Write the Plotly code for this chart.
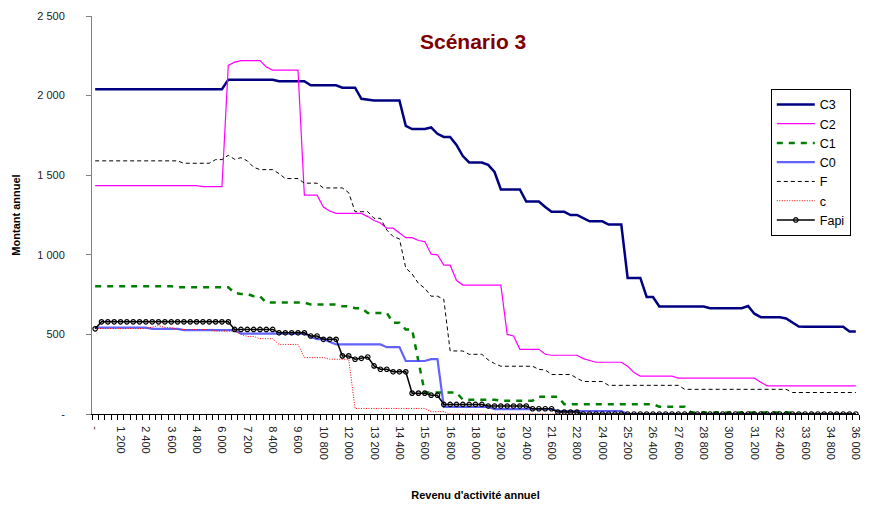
import plotly.graph_objects as go

# Categories: annual activity income, every 300
revenu = list(range(0, 36001, 300))

C3 = [2040,2040,2040,2040,2040,2040,2040,2040,2040,2040,
      2040,2040,2040,2040,2040,2040,2040,2040,2040,2040,
      2040,2100,2100,2100,2100,2100,2100,2100,2100,2090,
      2090,2090,2090,2090,2065,2065,2065,2065,2065,2050,
      2050,2050,1980,1975,1970,1970,1970,1970,1970,1810,
      1790,1790,1790,1800,1760,1740,1740,1690,1620,1580,
      1580,1580,1565,1520,1410,1410,1410,1410,1335,1335,
      1335,1300,1270,1270,1270,1250,1250,1230,1210,1210,
      1210,1190,1190,1190,855,855,855,735,735,675,
      675,675,675,675,675,675,675,665,665,665,
      665,665,665,678,630,608,608,608,608,600,
      573,550,548,548,548,548,548,548,548,518,
      518]

C2 = [1435,1435,1435,1435,1435,1435,1435,1435,1435,1435,
      1435,1435,1435,1435,1435,1435,1435,1428,1428,1428,
      1428,2190,2210,2220,2220,2220,2220,2180,2160,2160,
      2160,2160,2160,1375,1375,1375,1300,1275,1260,1260,
      1260,1260,1260,1240,1215,1200,1167,1167,1140,1108,
      1108,1090,1083,1004,1000,935,935,840,810,810,
      810,810,810,810,810,500,490,406,406,406,
      406,375,369,369,369,369,369,348,335,325,
      325,325,325,325,300,260,238,238,238,238,
      238,238,225,225,225,225,225,225,225,225,
      225,225,225,225,225,200,177,177,177,177,
      177,177,177,177,177,177,177,177,177,177,
      177]

C1 = [802,802,802,802,802,802,802,802,802,802,
      802,802,802,796,796,796,796,796,796,796,
      796,796,760,754,754,740,740,700,700,700,
      700,700,700,700,688,688,688,688,688,677,
      677,665,665,635,635,635,635,573,573,531,
      531,330,135,135,135,135,135,135,90,90,
      90,90,90,90,84,84,84,84,84,84,
      108,108,108,108,62,62,62,62,62,62,
      62,62,62,62,62,62,62,62,62,45,
      45,45,45,45,10,10,10,10,10,10,
      10,10,10,10,10,10,10,10,10,10,
      10,0,0,0,0,0,0,0,0,0,
      0]

C0 = [542,542,542,542,542,542,542,542,542,535,
      535,535,535,535,527,527,527,527,527,527,
      527,527,527,505,505,505,505,505,505,505,
      505,505,505,505,485,470,470,455,437,437,
      437,437,437,437,437,437,420,420,420,333,
      333,333,333,345,345,44,44,44,44,44,
      44,44,44,31,31,31,31,31,31,31,
      31,31,31,18,18,18,18,18,18,18,
      18,18,18,18,0,0,0,0,0,0,
      0,0,0,0,0,0,0,0,0,0,
      0,0,0,0,0,0,0,0,0,0,
      0,0,0,0,0,0,0,0,0,0,
      0]

F = [1590,1590,1590,1590,1590,1590,1590,1590,1590,1590,
     1590,1590,1590,1590,1575,1575,1575,1575,1575,1598,
     1598,1625,1600,1610,1590,1550,1535,1535,1535,1510,
     1479,1479,1479,1450,1450,1450,1420,1420,1420,1420,
     1390,1271,1271,1271,1229,1229,1156,1115,1100,917,
     880,820,790,740,740,720,396,396,396,375,
     375,375,340,317,300,300,300,300,300,300,
     280,277,248,248,248,248,225,204,204,204,
     204,180,180,180,180,180,180,180,180,180,
     180,180,180,155,155,155,155,155,155,155,
     155,155,155,155,155,155,155,155,155,155,
     135,135,135,135,135,135,135,135,135,135,
     135]

c = [537,537,537,537,537,537,537,537,537,545,
     556,542,542,531,531,531,531,531,531,521,
     521,521,521,500,487,487,473,473,473,437,
     437,437,437,354,354,354,354,344,344,344,
     344,35,35,35,35,35,35,35,35,35,
     35,35,35,15,15,15,0,0,0,0,
     0,0,0,0,0,0,0,0,0,0,
     0,0,0,0,0,0,0,0,0,0,
     0,0,0,0,0,0,0,0,0,0,
     0,0,0,0,0,0,0,0,0,0,
     0,0,0,0,0,0,0,0,0,0,
     0,0,0,0,0,0,0,0,0,0,
     0]

Fapi = [535,579,579,579,579,579,579,579,579,579,
        579,579,579,579,579,579,579,579,579,579,
        579,579,531,531,531,531,531,531,531,510,
        510,510,510,510,490,490,469,469,469,365,
        365,344,350,358,302,281,281,265,265,265,
        131,131,131,118,118,60,60,60,60,60,
        60,60,50,50,50,50,50,50,50,33,
        33,33,33,12,12,12,12,0,0,0,
        0,0,0,0,0,0,0,0,0,0,
        0,0,0,0,0,0,0,0,0,0,
        0,0,0,0,0,0,0,0,0,0,
        0,0,0,0,0,0,0,0,0,0,
        0]

for s in (C3, C2, C1, C0, F, c, Fapi):
    assert len(s) == len(revenu), len(s)

x_tickvals = [0, 1200, 2400, 3600, 4800, 6000, 7200, 8400, 9600, 10800, 12000,
              13200, 14400, 15600, 16800, 18000, 19200, 20400, 21600, 22800, 24000,
              25200, 26400, 27600, 28800, 30000, 31200, 32400, 33600, 34800, 36000]
x_ticktext = ["-", "1 200", "2 400", "3 600", "4 800", "6 000", "7 200", "8 400", "9 600",
              "10 800", "12 000", "13 200", "14 400", "15 600", "16 800", "18 000",
              "19 200", "20 400", "21 600", "22 800", "24 000", "25 200", "26 400",
              "27 600", "28 800", "30 000", "31 200", "32 400", "33 600", "34 800", "36 000"]
y_tickvals = [0, 500, 1000, 1500, 2000, 2500]
y_ticktext = ["-", "500", "1 000", "1 500", "2 000", "2 500"]

FONT = "Liberation Sans, Arial, sans-serif"

fig = go.Figure()
fig.add_trace(go.Scatter(x=revenu, y=C3, name="C3", mode="lines",
                         line=dict(color="#000080", width=2.5)))
fig.add_trace(go.Scatter(x=revenu, y=C2, name="C2", mode="lines",
                         line=dict(color="#FF00FF", width=1.2)))
fig.add_trace(go.Scatter(x=revenu, y=C1, name="C1", mode="lines",
                         line=dict(color="#008000", width=2.5, dash="6px,6px")))
fig.add_trace(go.Scatter(x=revenu, y=C0, name="C0", mode="lines",
                         line=dict(color="rgba(70,70,255,0.85)", width=2.2)))
fig.add_trace(go.Scatter(x=revenu, y=F, name="F", mode="lines",
                         line=dict(color="#000000", width=1, dash="4px,3px")))
fig.add_trace(go.Scatter(x=revenu, y=c, name="c", mode="lines",
                         line=dict(color="#FF0000", width=1, dash="1px,1.5px")))
fig.add_trace(go.Scatter(x=revenu, y=Fapi, name="Fapi", mode="lines+markers",
                         line=dict(color="#000000", width=1.5),
                         marker=dict(symbol="circle-open", size=4.5, color="#000000",
                                     line=dict(width=1.2, color="#000000"))))

fig.update_layout(
    width=869, height=507,
    margin=dict(l=92, r=7, t=16, b=92),
    paper_bgcolor="white", plot_bgcolor="white",
    font=dict(family=FONT, size=11, color="#222222"),
    showlegend=True,
    legend=dict(x=0.885, y=0.817, xanchor="left", yanchor="top",
                bordercolor="#000000", borderwidth=1, bgcolor="white",
                font=dict(size=12.5, color="#000000"),
                tracegroupgap=0, itemwidth=38),
    annotations=[dict(text="<b>Scénario 3</b>", x=0.497, xref="paper", y=(415 - 42) / 399,
                      yref="paper", yanchor="middle", showarrow=False,
                      font=dict(size=21, color="#800000", family=FONT))],
)

fig.update_xaxes(
    range=[-150, 36150], showgrid=False, zeroline=False,
    showline=True, linecolor="#000000", linewidth=1,
    tickmode="array", tickvals=x_tickvals, ticktext=x_ticktext,
    tickangle=90, ticks="", ticklabelstandoff=9,
    tickfont=dict(size=11, color="#222222"),
    minor=dict(ticks="outside", tick0=-150, dtick=300, ticklen=5,
               tickcolor="#000000", showgrid=False),
    title=dict(text="<b>Revenu d'activité annuel</b>", font=dict(size=11, color="#000000"),
               standoff=32),
)
fig.update_yaxes(
    range=[0, 2500], showgrid=False, zeroline=False,
    showline=True, linecolor="#808080", linewidth=1,
    tickmode="array", tickvals=y_tickvals, ticktext=y_ticktext,
    ticks="outside", ticklen=5, tickcolor="#808080", ticklabelstandoff=19,
    tickfont=dict(size=11, color="#222222"),
    title=dict(text="<b>Montant annuel</b>", font=dict(size=11, color="#000000"),
               standoff=14),
)

fig.write_html("out.html")
